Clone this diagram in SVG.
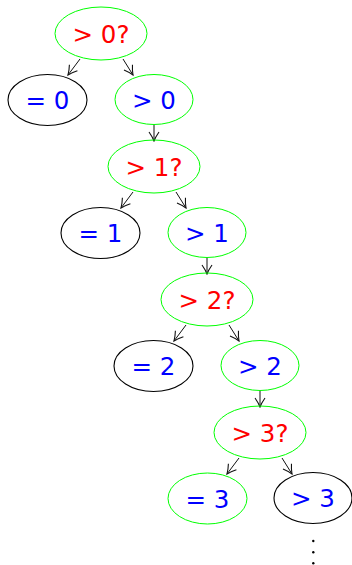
<svg xmlns="http://www.w3.org/2000/svg" width="352" height="565" viewBox="0 0 352 565">
<style>
.g{fill:none;stroke:#00ff00;stroke-width:1}
.k{fill:none;stroke:#000;stroke-width:1.1}
.t{font-family:"DejaVu Sans","Liberation Sans",sans-serif;font-size:24.5px;text-anchor:middle}
.r{fill:#ff0000}
.b{fill:#0000ff}
.e{stroke:#111;stroke-width:1;fill:none;marker-end:url(#ah)}
</style>
<defs>
<marker id="ah" viewBox="-10 -6 11 12" markerWidth="11" markerHeight="12" refX="0" refY="0" orient="auto" markerUnits="userSpaceOnUse">
<path d="M-9,-5 Q-4,-1.5 0,0 Q-4,1.5 -9,5" fill="none" stroke="#111" stroke-width="1.1"/>
</marker>
</defs>
<g id="connectors">
<line class="e" x1="80" y1="59" x2="68" y2="75"/>
<line class="e" x1="123" y1="59" x2="133" y2="75"/>
<line class="e" x1="154" y1="124.5" x2="154" y2="141"/>
<line class="e" x1="133" y1="192" x2="121" y2="208"/>
<line class="e" x1="176" y1="192" x2="186" y2="208"/>
<line class="e" x1="207" y1="257.5" x2="207" y2="274"/>
<line class="e" x1="186" y1="325" x2="174" y2="341"/>
<line class="e" x1="229" y1="325" x2="239" y2="341"/>
<line class="e" x1="260" y1="390.5" x2="260" y2="407"/>
<line class="e" x1="239" y1="458" x2="227" y2="474"/>
<line class="e" x1="282" y1="458" x2="292" y2="474"/>
</g>
<g id="q0"><ellipse class="g" cx="101" cy="33.5" rx="46" ry="26.5"/><text class="t r" x="101" y="42.5">&gt; 0?</text></g>
<g id="eq0"><ellipse class="k" cx="47.5" cy="100" rx="39.5" ry="25.5"/><text class="t b" x="47.5" y="109">= 0</text></g>
<g id="gt0"><ellipse class="g" cx="154" cy="99.5" rx="39" ry="25"/><text class="t b" x="154" y="108.5">&gt; 0</text></g>
<g id="q1"><ellipse class="g" cx="154" cy="166.5" rx="46" ry="26.5"/><text class="t r" x="154" y="175.5">&gt; 1?</text></g>
<g id="eq1"><ellipse class="k" cx="100.5" cy="233" rx="39.5" ry="25.5" stroke-width="1.6"/><text class="t b" x="100.5" y="242">= 1</text></g>
<g id="gt1"><ellipse class="g" cx="207" cy="232.5" rx="39" ry="25"/><text class="t b" x="207" y="241.5">&gt; 1</text></g>
<g id="q2"><ellipse class="g" cx="207" cy="299.5" rx="46" ry="26.5"/><text class="t r" x="207" y="308.5">&gt; 2?</text></g>
<g id="eq2"><ellipse class="k" cx="153.5" cy="366" rx="39.5" ry="25.5"/><text class="t b" x="153.5" y="375">= 2</text></g>
<g id="gt2"><ellipse class="g" cx="260" cy="365.5" rx="39" ry="25"/><text class="t b" x="260" y="374.5">&gt; 2</text></g>
<g id="q3"><ellipse class="g" cx="260" cy="432.5" rx="46" ry="26.5"/><text class="t r" x="260" y="441.5">&gt; 3?</text></g>
<g id="eq3"><ellipse class="g" cx="207.5" cy="498.5" rx="39.5" ry="25.5"/><text class="t b" x="207.5" y="507.5">= 3</text></g>
<g id="gt3"><ellipse class="k" cx="313" cy="498" rx="39" ry="25.5"/><text class="t b" x="313" y="507">&gt; 3</text></g>
<g id="dots" fill="#000"><circle cx="313.3" cy="541" r="1.2"/><circle cx="313.3" cy="552.3" r="1.2"/><circle cx="313.3" cy="563.3" r="1.2"/></g>
</svg>
